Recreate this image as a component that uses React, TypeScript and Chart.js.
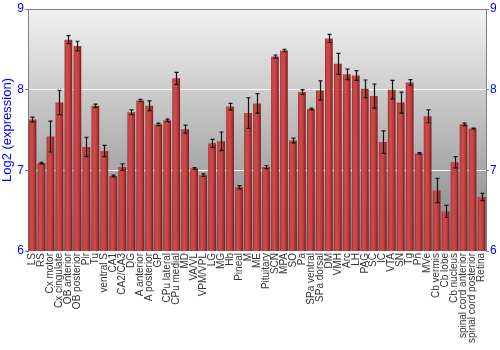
import { useEffect, useRef } from "react";
import { Chart, registerables } from "chart.js";
Chart.register(...registerables);

const categories = [
  "LS", "RS", "Cx motor", "Cx cingulate", "OB anterior", "OB posterior", "Pir", "Tu",
  "ventral S", "CA1", "CA2/CA3", "DG", "A anterior", "A posterior", "GP", "CPu lateral",
  "CPu medial", "MD", "VA/VL", "VPM/VPL", "LG", "MG", "Hb", "Pineal", "M", "ME",
  "Pituitary", "SCN", "MPA", "SO", "Pa", "SPa ventral", "SPa dorsal", "DM", "VMH", "Arc",
  "LH", "PAG", "SC", "IC", "VTA", "SN", "Tg", "Pn", "MVe", "Cb vermis", "Cb lobe",
  "Cb nucleus", "spinal cord anterior", "spinal cord posterior", "Retina",
];

const values = [
  7.63, 7.09, 7.42, 7.84, 8.62, 8.54, 7.29, 7.80,
  7.24, 6.93, 7.04, 7.72, 7.865, 7.80, 7.57, 7.62,
  8.14, 7.51, 7.025, 6.94, 7.335, 7.36, 7.79, 6.79, 7.71, 7.83,
  7.04, 8.41, 8.486, 7.37, 7.97, 7.76, 7.99, 8.635, 8.32, 8.19,
  8.175, 8.01, 7.92, 7.35, 8.0, 7.84, 8.09, 7.21, 7.67, 6.75, 6.49,
  7.10, 7.57, 7.52, 6.67,
];

const errors = [
  0.03, 0.01, 0.19, 0.15, 0.05, 0.06, 0.12, 0.02,
  0.07, 0.01, 0.04, 0.03, 0.015, 0.06, 0.015, 0.015,
  0.075, 0.05, 0.01, 0.015, 0.05, 0.115, 0.04, 0.02, 0.19, 0.12,
  0.02, 0.02, 0.015, 0.03, 0.03, 0.01, 0.12, 0.05, 0.13, 0.065,
  0.06, 0.11, 0.15, 0.14, 0.115, 0.13, 0.035, 0.01, 0.08, 0.15, 0.075,
  0.07, 0.015, 0.005, 0.045,
];

const yTicks = [6, 7, 8, 9];

const FONT = "'Liberation Sans', Arial, sans-serif";
const BLUE = "#0000ff";
const AXIS_GRAY = "#808080";

export default function App() {
  const ref = useRef<HTMLCanvasElement | null>(null);

  useEffect(() => {
    const canvas = ref.current;
    if (!canvas) return;

    const bgPlugin = {
      id: "bgGradient",
      beforeDraw(chart: any) {
        const { ctx, chartArea } = chart;
        if (!chartArea) return;
        const g = ctx.createLinearGradient(0, chartArea.top, 0, chartArea.bottom);
        g.addColorStop(0, "#f2f2f2");
        g.addColorStop(1, "#828282");
        ctx.save();
        ctx.fillStyle = g;
        ctx.fillRect(chartArea.left, chartArea.top, chartArea.right - chartArea.left, chartArea.bottom - chartArea.top);
        ctx.restore();
      },
    };

    const errPlugin = {
      id: "errorBars",
      afterDatasetsDraw(chart: any) {
        const { ctx } = chart;
        const meta = chart.getDatasetMeta(0);
        const yScale = chart.scales.y;
        ctx.save();
        ctx.strokeStyle = "#111";
        ctx.lineWidth = 1.2;
        meta.data.forEach((el: any, i: number) => {
          const v = values[i];
          const e = errors[i];
          const x = Math.round(el.x) + 0.5;
          const yt = yScale.getPixelForValue(v + e);
          const yb = yScale.getPixelForValue(v - e);
          ctx.beginPath();
          ctx.moveTo(x, yt);
          ctx.lineTo(x, yb);
          ctx.moveTo(x - 2, yt);
          ctx.lineTo(x + 2, yt);
          ctx.moveTo(x - 2, yb);
          ctx.lineTo(x + 2, yb);
          ctx.stroke();
        });
        ctx.restore();
      },
    };

    const barColor = (context: any) => {
      const chart = context.chart;
      const xs = chart.scales.x;
      if (!xs || !chart.chartArea) return "#c04040";
      const cx = xs.getPixelForValue(context.dataIndex);
      const w = (xs.width / categories.length) * 0.86;
      const g = chart.ctx.createLinearGradient(cx - w / 2, 0, cx + w / 2, 0);
      g.addColorStop(0, "#9a2a2a");
      g.addColorStop(0.15, "#c44444");
      g.addColorStop(0.45, "#cc4b4b");
      g.addColorStop(0.75, "#b23636");
      g.addColorStop(1, "#7a1a1a");
      return g;
    };

    const chart = new Chart(canvas, {
      type: "bar",
      data: {
        labels: categories,
        datasets: [
          {
            data: values,
            backgroundColor: barColor,
            borderWidth: 0,
            barPercentage: 0.86,
            categoryPercentage: 1,
          },
        ],
      },
      options: {
        responsive: false,
        maintainAspectRatio: false,
        animation: false,
        layout: { padding: { top: 9, left: 0, right: 0, bottom: 0 } },
        plugins: {
          legend: { display: false },
          tooltip: { enabled: false },
        },
        scales: {
          x: {
            type: "category",
            grid: { display: false, drawTicks: false },
            border: { display: false },
            ticks: {
              autoSkip: false,
              minRotation: 90,
              maxRotation: 90,
              padding: 2,
              color: "#333333",
              font: { family: FONT, size: 10 },
            },
            afterFit(scale: any) {
              scale.height = 99;
            },
          },
          y: {
            position: "left",
            min: 6,
            max: 9,
            afterBuildTicks(scale: any) {
              scale.ticks = yTicks.map((v) => ({ value: v }));
            },
            ticks: {
              color: BLUE,
              padding: 1,
              font: { family: FONT, size: 12 },
            },
            grid: {
              color: (c: any) =>
                c.tick && c.tick.value === 9 ? AXIS_GRAY : c.tick && c.tick.value === 6 ? "rgba(0,0,0,0)" : "#ffffff",
              tickColor: AXIS_GRAY,
              tickLength: 3,
              lineWidth: 1,
            },
            border: { display: true, color: AXIS_GRAY },
            title: {
              display: true,
              text: "Log2 (expression)",
              color: BLUE,
              padding: 0,
              font: { family: FONT, size: 13 },
            },
            afterFit(scale: any) {
              scale.width = 28;
            },
          },
          y2: {
            position: "right",
            min: 6,
            max: 9,
            afterBuildTicks(scale: any) {
              scale.ticks = yTicks.map((v) => ({ value: v }));
            },
            ticks: {
              color: BLUE,
              padding: 1,
              font: { family: FONT, size: 12 },
            },
            grid: {
              drawOnChartArea: false,
              color: AXIS_GRAY,
              tickColor: AXIS_GRAY,
              tickLength: 3,
            },
            border: { display: true, color: AXIS_GRAY },
            afterFit(scale: any) {
              scale.width = 14;
            },
          },
        },
      },
      plugins: [bgPlugin, errPlugin],
    });

    return () => {
      chart.destroy();
    };
  }, []);

  return (
    <div style={{ position: "fixed", left: 0, top: 0, width: 500, height: 350, background: "#ffffff" }}>
      <canvas ref={ref} width={500} height={350} style={{ display: "block", width: 500, height: 350 }} />
    </div>
  );
}
